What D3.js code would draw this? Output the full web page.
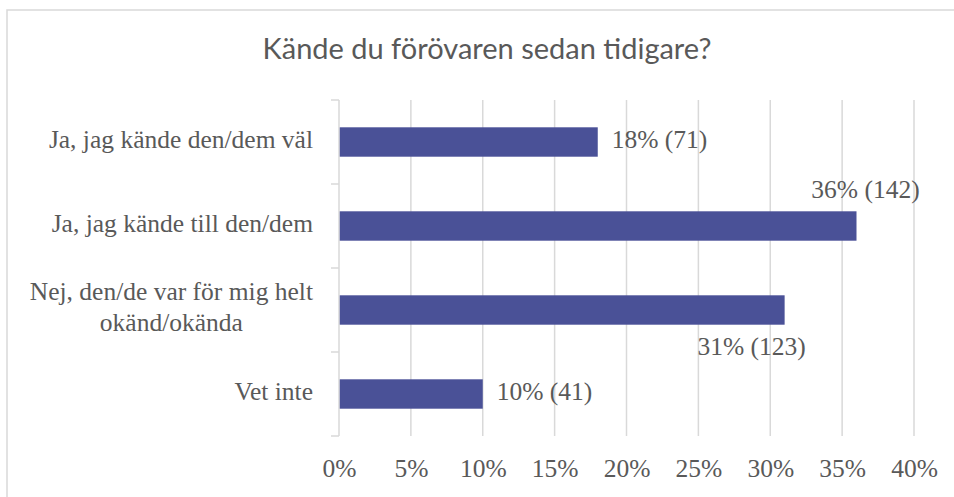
<!DOCTYPE html>
<html>
<head>
<meta charset="utf-8">
<script src="https://cdn.jsdelivr.net/npm/d3@7"></script>
<style>
  html, body { margin: 0; padding: 0; background: #fff; }
  svg { display: block; }
</style>
</head>
<body>
<svg id="chart" width="954" height="497"></svg>
<script>
const title = "Kände du förövaren sedan tidigare?";
const categories = [
  ["Ja, jag kände den/dem väl"],
  ["Ja, jag kände till den/dem"],
  ["Nej, den/de var för mig helt", "okänd/okända"],
  ["Vet inte"]
];
const percentValues = [18, 36, 31, 10];
const counts = [71, 142, 123, 41];
const tickValues = [0, 5, 10, 15, 20, 25, 30, 35, 40];
const labelPlacement = ["right", "above", "below", "right"];

const svg = d3.select("#chart");
const grey = "#595959", gridColor = "#d9d9d9", barColor = "#4a5197";
const serif = "'Liberation Serif', 'Times New Roman', serif";
const fs = "25.5px";

// outer chart border (only top/left visible in crop)
svg.append("rect").attr("x", 7).attr("y", 10).attr("width", 1000).attr("height", 600)
  .attr("fill", "#fff").attr("stroke", gridColor).attr("stroke-width", 1.5);

const x = d3.scaleLinear().domain([0, 40]).range([339, 914]);
const y = d3.scaleBand().domain(d3.range(categories.length)).range([100, 436])
  .paddingInner(0.65).paddingOuter(0.325);

// gridlines
svg.append("g").selectAll("line").data(tickValues.slice(1)).join("line")
  .attr("x1", d => x(d)).attr("x2", d => x(d))
  .attr("y1", 100).attr("y2", 436)
  .attr("stroke", gridColor).attr("stroke-width", 1.5);

// vertical category axis with outward ticks
const yEdges = d3.scaleLinear().domain([0, categories.length]).range([100, 436]);
const yAxisG = svg.append("g");
yAxisG.append("line").attr("x1", x(0)).attr("x2", x(0)).attr("y1", 100).attr("y2", 436)
  .attr("stroke", gridColor).attr("stroke-width", 1.5);
yAxisG.selectAll("line.tk").data(d3.range(categories.length + 1)).join("line")
  .attr("class", "tk")
  .attr("x1", x(0) - 8).attr("x2", x(0))
  .attr("y1", d => yEdges(d)).attr("y2", d => yEdges(d))
  .attr("stroke", gridColor).attr("stroke-width", 1.5);

// bars
svg.append("g").selectAll("rect").data(percentValues).join("rect")
  .attr("x", x(0) + 0.75)
  .attr("y", (d, i) => y(i))
  .attr("width", d => x(d) - x(0) - 0.75)
  .attr("height", y.bandwidth())
  .attr("fill", barColor);

// category labels
const catG = svg.append("g").attr("font-family", serif).attr("font-size", fs).attr("fill", grey);
categories.forEach((lines, i) => {
  const cy = y(i) + y.bandwidth() / 2;
  const lh = 31;
  const t = catG.append("text").attr("text-anchor", "middle");
  const tspans = lines.map((ln, k) => t.append("tspan")
    .attr("y", cy + 5.5 + (k - (lines.length - 1) / 2) * lh).text(ln));
  const widths = tspans.map(s => s.node().getComputedTextLength());
  const wMax = d3.max(widths);
  const right = x(0) - 26;
  tspans.forEach(s => s.attr("x", right - wMax / 2));
});

// data labels
const lblG = svg.append("g").attr("font-family", serif).attr("font-size", fs).attr("fill", grey);
percentValues.forEach((v, i) => {
  const txt = `${v}% (${counts[i]})`;
  const top = y(i), bot = y(i) + y.bandwidth();
  const t = lblG.append("text").text(txt);
  const p = labelPlacement[i];
  if (p === "right") {
    t.attr("x", x(v) + 14).attr("y", top + y.bandwidth() / 2 + 6).attr("text-anchor", "start");
  } else if (p === "above") {
    t.attr("x", x(v) + 9).attr("y", top - 13).attr("text-anchor", "middle");
  } else {
    t.attr("x", x(v) - 33).attr("y", bot + 30).attr("text-anchor", "middle");
  }
});

// x axis tick labels
const xAxis = d3.axisBottom(x).tickValues(tickValues).tickFormat(d => d + "%").tickSize(0).tickPadding(0);
const xg = svg.append("g").attr("transform", "translate(0,459)").call(xAxis);
xg.select(".domain").remove();
xg.selectAll("text").attr("font-family", serif).attr("font-size", fs).attr("fill", grey);

// title
svg.append("text").attr("x", 487).attr("y", 59).attr("text-anchor", "middle")
  .attr("font-family", "Lato, 'Open Sans', sans-serif").attr("font-size", "29px")
  .attr("fill", grey).text(title);
</script>
</body>
</html>
